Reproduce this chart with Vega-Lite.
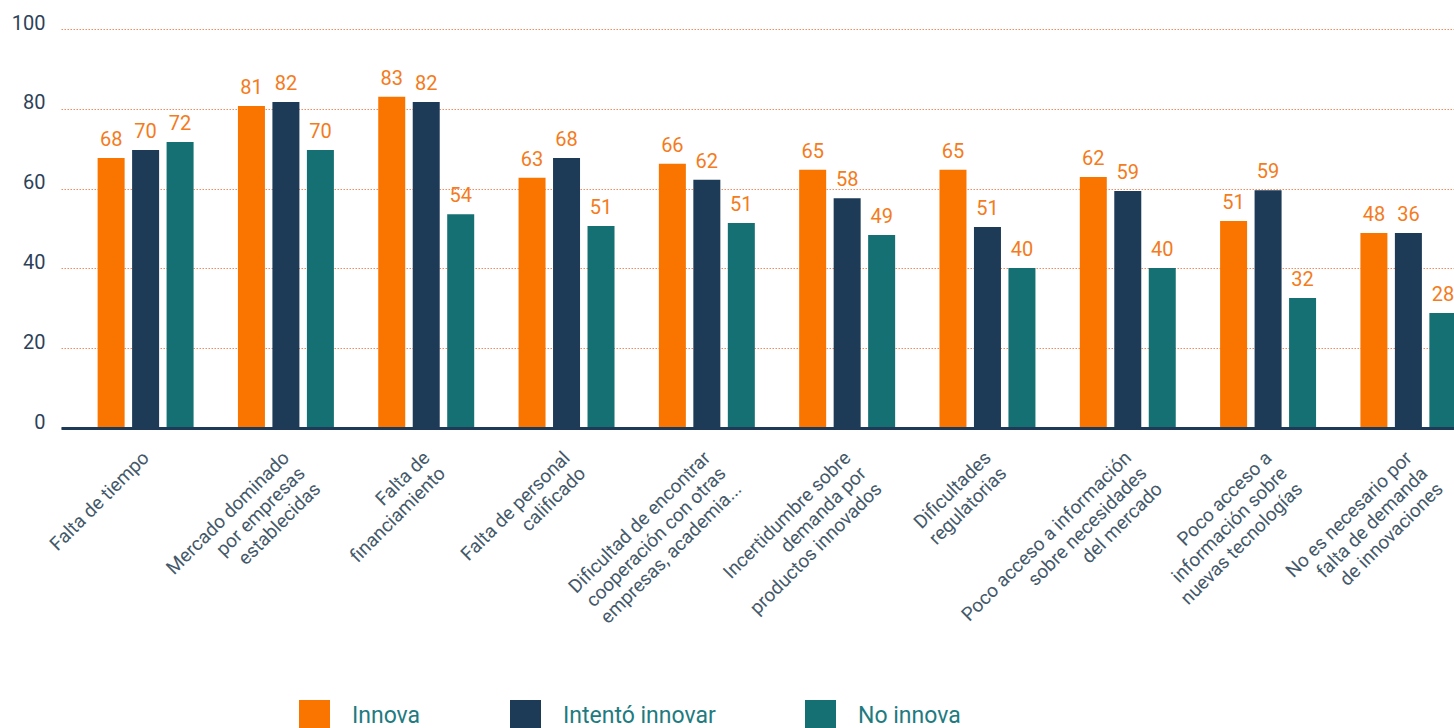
{
  "$schema": "https://vega.github.io/schema/vega-lite/v6.json",
  "width": 1393,
  "height": 399,
  "autosize": {"type": "none"},
  "padding": {"left": 61, "top": 29, "right": 0, "bottom": 300},
  "background": "white",
  "config": {"view": {"stroke": null}, "font": "Roboto"},
  "data": {
    "values": [
      {"cat": "Falta de tiempo", "serie": "Innova", "value": 67.7, "label": "68"},
      {"cat": "Falta de tiempo", "serie": "Intentó innovar", "value": 69.7, "label": "70"},
      {"cat": "Falta de tiempo", "serie": "No innova", "value": 71.7, "label": "72"},
      {"cat": "Mercado dominado|por empresas|establecidas", "serie": "Innova", "value": 80.7, "label": "81"},
      {"cat": "Mercado dominado|por empresas|establecidas", "serie": "Intentó innovar", "value": 81.7, "label": "82"},
      {"cat": "Mercado dominado|por empresas|establecidas", "serie": "No innova", "value": 69.7, "label": "70"},
      {"cat": "Falta de|financiamiento", "serie": "Innova", "value": 83.0, "label": "83"},
      {"cat": "Falta de|financiamiento", "serie": "Intentó innovar", "value": 81.7, "label": "82"},
      {"cat": "Falta de|financiamiento", "serie": "No innova", "value": 53.6, "label": "54"},
      {"cat": "Falta de personal|calificado", "serie": "Innova", "value": 62.7, "label": "63"},
      {"cat": "Falta de personal|calificado", "serie": "Intentó innovar", "value": 67.7, "label": "68"},
      {"cat": "Falta de personal|calificado", "serie": "No innova", "value": 50.6, "label": "51"},
      {"cat": "Dificultad de encontrar|cooperación con otras|empresas, academia...", "serie": "Innova", "value": 66.2, "label": "66"},
      {"cat": "Dificultad de encontrar|cooperación con otras|empresas, academia...", "serie": "Intentó innovar", "value": 62.2, "label": "62"},
      {"cat": "Dificultad de encontrar|cooperación con otras|empresas, academia...", "serie": "No innova", "value": 51.4, "label": "51"},
      {"cat": "Incertidumbre sobre|demanda por|productos innovados", "serie": "Innova", "value": 64.7, "label": "65"},
      {"cat": "Incertidumbre sobre|demanda por|productos innovados", "serie": "Intentó innovar", "value": 57.6, "label": "58"},
      {"cat": "Incertidumbre sobre|demanda por|productos innovados", "serie": "No innova", "value": 48.4, "label": "49"},
      {"cat": "Dificultades|regulatorias", "serie": "Innova", "value": 64.7, "label": "65"},
      {"cat": "Dificultades|regulatorias", "serie": "Intentó innovar", "value": 50.4, "label": "51"},
      {"cat": "Dificultades|regulatorias", "serie": "No innova", "value": 40.1, "label": "40"},
      {"cat": "Poco acceso a información|sobre necesidades|del mercado", "serie": "Innova", "value": 62.9, "label": "62"},
      {"cat": "Poco acceso a información|sobre necesidades|del mercado", "serie": "Intentó innovar", "value": 59.4, "label": "59"},
      {"cat": "Poco acceso a información|sobre necesidades|del mercado", "serie": "No innova", "value": 40.1, "label": "40"},
      {"cat": "Poco acceso a|información sobre|nuevas tecnologías", "serie": "Innova", "value": 51.9, "label": "51"},
      {"cat": "Poco acceso a|información sobre|nuevas tecnologías", "serie": "Intentó innovar", "value": 59.6, "label": "59"},
      {"cat": "Poco acceso a|información sobre|nuevas tecnologías", "serie": "No innova", "value": 32.6, "label": "32"},
      {"cat": "No es necesario por|falta de demanda|de innovaciones", "serie": "Innova", "value": 48.9, "label": "48"},
      {"cat": "No es necesario por|falta de demanda|de innovaciones", "serie": "Intentó innovar", "value": 48.9, "label": "36"},
      {"cat": "No es necesario por|falta de demanda|de innovaciones", "serie": "No innova", "value": 28.8, "label": "28"}
    ]
  },
  "encoding": {
    "x": {
      "field": "cat", "type": "nominal", "sort": null,
      "scale": {"range": [0, 1432], "paddingInner": 0, "paddingOuter": 0.103, "align": 0.5},
      "axis": {
        "orient": "bottom", "title": null, "ticks": false, "tickSize": 0, "grid": false, "zindex": 1,
        "domain": true, "domainColor": "#1f3a56", "domainWidth": 3,
        "labelAngle": -45, "labelAlign": "right", "labelBaseline": "top",
        "labelPadding": 20, "labelOffset": -6, "labelFontSize": 19, "labelColor": "#44596a", "labelLineHeight": 22,
        "labelExpr": "split(datum.label, '|')", "labelOverlap": false, "labelLimit": 0, "labelFlush": false
      }
    },
    "xOffset": {"field": "serie", "type": "nominal", "sort": null, "scale": {"paddingInner": 0.217, "paddingOuter": 0.643}},
    "y": {
      "field": "value", "type": "quantitative",
      "scale": {"domain": [0, 100], "nice": false},
      "axis": {
        "title": null, "values": [0, 20, 40, 60, 80, 100], "domain": false, "ticks": false,
        "grid": true, "gridColor": "#f58a5c", "gridDash": [1.5, 1.5], "gridWidth": 1,
        "labelPadding": 16, "labelFontSize": 20, "labelColor": "#2d4259",
        "labelBaseline": "middle", "labelOffset": -6
      }
    }
  },
  "layer": [
    {
      "mark": {"type": "bar"},
      "encoding": {
        "color": {
          "field": "serie", "type": "nominal", "sort": null,
          "scale": {"domain": ["Innova", "Intentó innovar", "No innova"], "range": ["#f97500", "#1d3a57", "#157073"]},
          "legend": {
            "orient": "none", "legendX": 238, "legendY": 671, "direction": "horizontal", "title": null,
            "symbolType": "M-1,-1H1V1H-1Z", "symbolSize": 961, "symbolStrokeWidth": 0,
            "labelFontSize": 23, "labelColor": "#1e7b80", "labelOffset": 22, "columnPadding": 89, "padding": 0
          }
        }
      }
    },
    {
      "mark": {"type": "text", "baseline": "alphabetic", "dy": -12, "fontSize": 20, "color": "#f47b20"},
      "encoding": {"text": {"field": "label"}}
    }
  ]
}
